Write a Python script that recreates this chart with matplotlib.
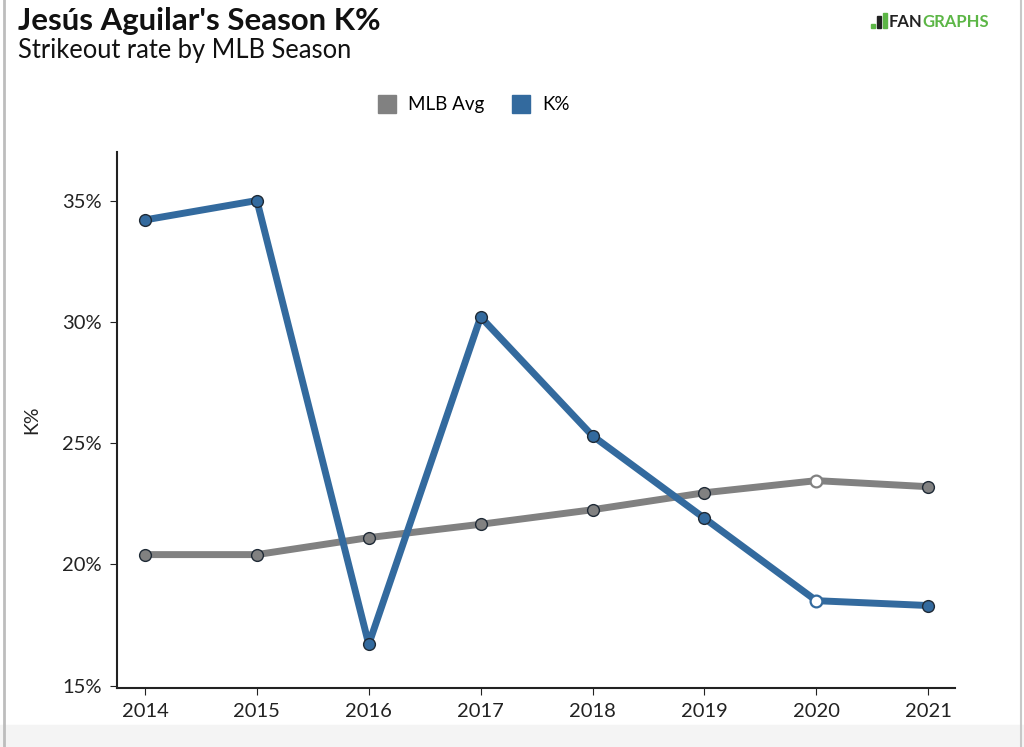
import matplotlib.pyplot as plt
from matplotlib.patches import Rectangle
from matplotlib.lines import Line2D

seasons = [2014, 2015, 2016, 2017, 2018, 2019, 2020, 2021]
k_pct = [34.2, 35.0, 16.7, 30.2, 25.3, 21.9, 18.5, 18.3]
mlb_avg = [20.4, 20.4, 21.1, 21.65, 22.25, 22.95, 23.45, 23.2]
y_ticks = [15, 20, 25, 30, 35]

blue = "#336a9e"
grey = "#818181"
green = "#5cb646"

plt.rcParams["font.family"] = ["Lato", "DejaVu Sans"]

fig = plt.figure(figsize=(10.24, 7.47), dpi=100)
ax = fig.add_axes([0.1143, 0.079, 0.8183, 0.7175])

# frame bits of the screenshot
fig.patches.append(Rectangle((0, 0), 1, 0.029, transform=fig.transFigure,
                             color="#f4f4f4", zorder=0))
fig.add_artist(Line2D([0.0035, 0.0035], [0, 1], color="#bdbdbd", lw=2))
fig.add_artist(Line2D([0.9975, 0.9975], [0, 1], color="#c8c8c8", lw=1.5))


def series(values, color):
    ax.plot(seasons, values, color=color, lw=5, zorder=2, solid_capstyle="round")
    full = [i for i, s in enumerate(seasons) if s != 2020]
    ax.scatter([seasons[i] for i in full], [values[i] for i in full], s=72,
               color=color, edgecolor="#1f2a36", linewidth=1, zorder=3)
    i20 = seasons.index(2020)
    ax.scatter([seasons[i20]], [values[i20]], s=72, color="white",
               edgecolor=color, linewidth=1.6, zorder=3)


series(mlb_avg, grey)
series(k_pct, blue)

ax.set_xlim(2013.75, 2021.24)
ax.set_ylim(14.9, 37)
ax.set_xticks(seasons)
ax.set_yticks(y_ticks)
ax.set_yticklabels([f"{t}%" for t in y_ticks])
ax.tick_params(labelsize=14.5, length=5, color="#222222", labelcolor="#222222", pad=6)
for s in ["top", "right"]:
    ax.spines[s].set_visible(False)
for s in ["left", "bottom"]:
    ax.spines[s].set_linewidth(1.5)
    ax.spines[s].set_color("#222222")
ax.set_ylabel("K%", fontsize=14, color="#222222", labelpad=16)

fig.text(0.018, 0.972, "Jesús Aguilar's Season K%", fontsize=22.4, fontweight="bold",
         va="center", color="#111111")
fig.text(0.018, 0.932, "Strikeout rate by MLB Season", fontsize=18.4,
         va="center", color="#111111")

# legend
handles = [Line2D([], [], marker="s", ls="", markersize=13, color=grey),
           Line2D([], [], marker="s", ls="", markersize=13, color=blue)]
fig.legend(handles, ["MLB Avg", "K%"], loc="center", bbox_to_anchor=(0.458, 0.86),
           ncol=2, frameon=False, fontsize=13.5, handletextpad=0.1, columnspacing=1.0)

# logo
for i, (x0, h) in enumerate([(0.8505, 0.006), (0.8565, 0.016), (0.8625, 0.02)]):
    fig.patches.append(Rectangle((x0, 0.962), 0.004, h, transform=fig.transFigure,
                                 color=green if i != 1 else "#222222", zorder=5))
fan = fig.text(0.8575 + 0.0105, 0.971, "FAN", fontsize=12, color="#222222",
               fontweight="bold", va="center")
fig.canvas.draw()
bb = fan.get_window_extent().transformed(fig.transFigure.inverted())
fig.text(bb.x1, 0.971, "GRAPHS", fontsize=12, color=green, fontweight="bold",
         va="center")

fig.savefig("out.png", dpi=100)
